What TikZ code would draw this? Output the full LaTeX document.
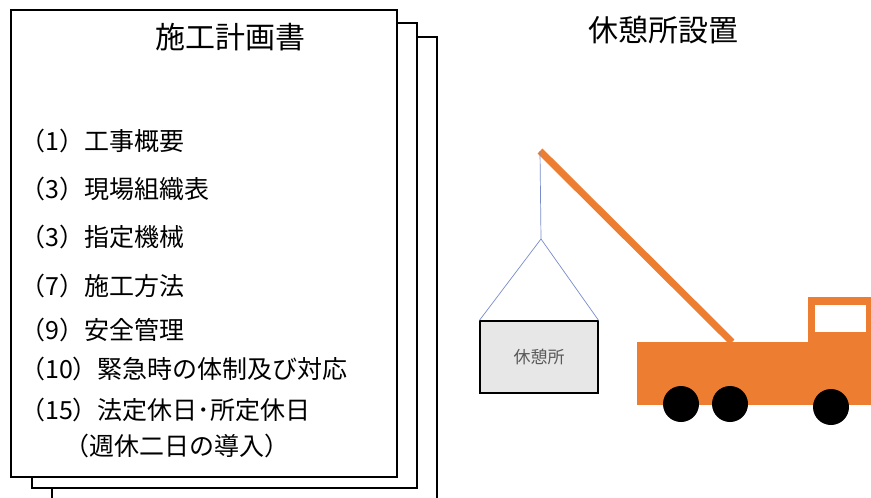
\documentclass[tikz,border=0pt]{standalone}
\usepackage{fontspec}
\setmainfont{Noto Sans CJK JP}
\definecolor{craneorange}{RGB}{237,125,49}
\definecolor{ropeblue}{RGB}{120,140,205}
\definecolor{hutgray}{RGB}{231,231,231}

\begin{document}
\begin{tikzpicture}[x=1pt,y=-1pt,
  page/.style={draw=black,line width=1.2pt,fill=white},
  heading/.style={inner sep=0pt,font=\fontsize{30}{30}\selectfont},
  item/.style={anchor=west,inner sep=0pt,font=\fontsize{25}{25}\selectfont},
  rope/.style={draw=ropeblue,line width=0.7pt}]

\clip (0,0) rectangle (871,498);
\fill[white] (0,0) rectangle (871,498);

% stacked sheets
\draw[page] (52,37) rectangle (437,520);
\draw[page] (32,23) rectangle (417,488);
\draw[page] (11,10) rectangle (397,477);

\node[heading] (plan) at (230,37) {施工計画書};
\node[item] (i1) at (20,141) {（1）工事概要};
\node[item] (i2) at (20,189) {（3）現場組織表};
\node[item] (i3) at (20,237) {（3）指定機械};
\node[item] (i4) at (20,286) {（7）施工方法};
\node[item] (i5) at (20,330) {（9）安全管理};
\node[item] (i6) at (20,369) {（10）緊急時の体制及び対応};
\node[item] (i7) at (20,410) {（15）法定休日･所定休日};
\node[item] (i8) at (64,446) {（週休二日の導入）};

\node[heading] (setup) at (663,30) {休憩所設置};

% crane truck
\coordinate (tip) at (540,151);
\coordinate (base) at (732,342);
\coordinate (hook) at (541,239);
\draw[craneorange,line width=7pt] (tip) -- (base);
\fill[craneorange] (637,342) rectangle (871,405);
\fill[craneorange] (808,297) rectangle (871,342);
\fill[white] (815,305) rectangle (866,332);
\fill (681,404) circle (18pt);
\fill (730,404) circle (18pt);
\fill (831,407) circle (18pt);

\node[draw,line width=1.2pt,fill=hutgray,minimum width=118pt,minimum height=72pt,
  text=black!65,font=\fontsize{17}{17}\selectfont] (hut) at (539,357) {休憩所};

\draw[rope] (tip) -- (hook);
\draw[rope] (hook) -- (hut.north west);
\draw[rope] (hook) -- (hut.north east);

\end{tikzpicture}
\end{document}
